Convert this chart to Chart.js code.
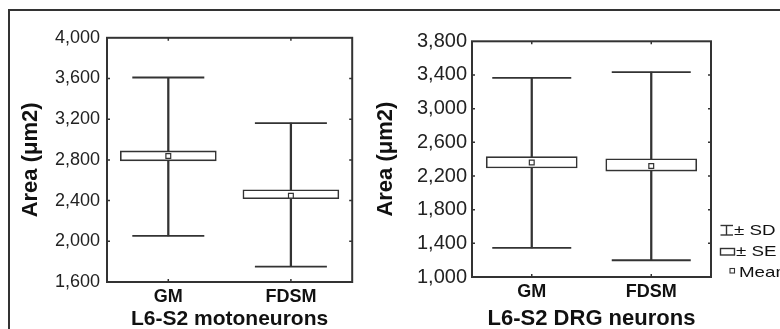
<!DOCTYPE html>
<html>
<head>
<meta charset="utf-8">
<script src="https://cdn.jsdelivr.net/npm/chart.js@4.4.1/dist/chart.umd.min.js"></script>
<style>
html,body{margin:0;padding:0;background:#fff;overflow:hidden;width:780px;height:329px;}
#frame{position:absolute;left:8px;top:9px;width:800px;height:400px;border-top:2px solid #333;border-left:2px solid #333;}
#w1{position:absolute;left:0;top:0;width:390px;height:329px;}
#w2{position:absolute;left:355px;top:0;width:425px;height:329px;}
.lg{position:absolute;font-family:'Liberation Sans',Arial,sans-serif;font-size:15px;line-height:15px;color:#111;white-space:nowrap;transform:scaleX(1.25);transform-origin:0 0;}
</style>
</head>
<body>
<div id="frame"></div>
<div id="w1"><canvas id="c1" width="390" height="329"></canvas></div>
<div id="w2"><canvas id="c2" width="425" height="329"></canvas></div>

<svg style="position:absolute;left:718px;top:222px;" width="20" height="60">
  <g stroke="#333" stroke-width="1.4" fill="#fff">
    <line x1="2.5" y1="3.5" x2="15" y2="3.5"/>
    <line x1="8.5" y1="3.5" x2="8.5" y2="13"/>
    <line x1="2.5" y1="13" x2="15" y2="13"/>
    <rect x="2.5" y="26.5" width="14" height="6.5"/>
    <rect x="12" y="46.5" width="4.5" height="4.5" stroke-width="1.1"/>
  </g>
</svg>
<div class="lg" style="left:734px;top:222px;">± SD</div>
<div class="lg" style="left:736px;top:243px;">± SE</div>
<div class="lg" style="left:739px;top:264px;">Mean</div>

<script>
// ---- data ----
const categories = ['GM', 'FDSM'];

// L6-S2 motoneurons
const motoMean   = [2838, 2447];
const motoSeLow  = [2791, 2419];
const motoSeHigh = [2888, 2507];
const motoSdLow  = [2054, 1751];
const motoSdHigh = [3610, 3162];
const motoTicks  = [1600, 2000, 2400, 2800, 3200, 3600, 4000];

// L6-S2 DRG neurons
const drgMean   = [2361, 2319];
const drgSeLow  = [2296, 2258];
const drgSeHigh = [2430, 2404];
const drgSdLow  = [1345, 1199];
const drgSdHigh = [3366, 3435];
const drgTicks  = [1000, 1400, 1800, 2200, 2600, 3000, 3400, 3800];

const yTitle = 'Area (μm2)';
const FONT = "'Liberation Sans', Arial, sans-serif";
const INK = '#333';

const framePlugin = {
  id: 'frameTicks',
  afterDatasetsDraw(chart) {
    const {ctx, chartArea: a, scales} = chart;
    ctx.save();
    ctx.strokeStyle = INK;
    ctx.lineWidth = 2;
    ctx.strokeRect(a.left, a.top, a.right - a.left, a.bottom - a.top);
    ctx.lineWidth = 1.5;
    const ys = scales.y.ticks;
    ys.forEach((t, i) => {
      if (i === 0 || i === ys.length - 1) return;
      const y = scales.y.getPixelForTick(i);
      ctx.beginPath();
      ctx.moveTo(a.left, y); ctx.lineTo(a.left + 3, y);
      ctx.moveTo(a.right, y); ctx.lineTo(a.right - 3, y);
      ctx.stroke();
    });
    scales.x.ticks.forEach((t, i) => {
      const x = scales.x.getPixelForValue(i);
      ctx.beginPath();
      ctx.moveTo(x, a.top); ctx.lineTo(x, a.top + 3);
      ctx.moveTo(x, a.bottom); ctx.lineTo(x, a.bottom - 3);
      ctx.stroke();
    });
    ctx.restore();
  }
};

function makeChart(id, o) {
  const W = o.W, H = 329;
  return new Chart(document.getElementById(id), {
    type: 'bar',
    data: {
      labels: categories,
      datasets: [
        { type: 'bar', label: 'SD range', data: o.sdLow.map((v, i) => [v, o.sdHigh[i]]),
          barThickness: 1.6, backgroundColor: INK, borderWidth: 0, grouped: false, order: 4 },
        { type: 'bar', label: '± SE', data: o.seLow.map((v, i) => [v, o.seHigh[i]]),
          barThickness: o.boxW, backgroundColor: '#fff', borderColor: INK, borderWidth: 1.6,
          borderSkipped: false, grouped: false, order: 2 },
        { type: 'line', label: '± SD', data: o.sdHigh, showLine: false, pointStyle: 'line',
          pointRadius: o.capW / 2, pointHoverRadius: o.capW / 2, borderColor: INK,
          pointBorderColor: INK, pointBorderWidth: 1.8, order: 3 },
        { type: 'line', label: 'SD low', data: o.sdLow, showLine: false, pointStyle: 'line',
          pointRadius: o.capW / 2, pointHoverRadius: o.capW / 2, borderColor: INK,
          pointBorderColor: INK, pointBorderWidth: 1.8, order: 3 },
        { type: 'line', label: 'Mean', data: o.mean, showLine: false, pointStyle: 'rect',
          pointRadius: 3.4, pointHoverRadius: 3.4, pointBackgroundColor: '#fff',
          pointBorderColor: INK, pointBorderWidth: 1.2, order: 1 }
      ]
    },
    options: {
      responsive: false,
      animation: false,
      events: [],
      layout: { padding: { left: 0, top: o.top, right: W - o.right, bottom: 0 } },
      plugins: { legend: { display: false }, tooltip: { enabled: false } },
      scales: {
        x: {
          type: 'category',
          grid: { display: false, drawTicks: false },
          border: { display: false },
          ticks: { color: '#111', font: { family: FONT, size: 18, weight: 'bold' }, padding: 4 },
          title: { display: true, text: o.xTitle, color: '#111',
                   font: { family: FONT, size: o.xTitleSize, weight: 'bold', lineHeight: 1 },
                   padding: { top: 0, bottom: -1 } },
          afterFit(s) { s.height = H - o.bottom; }
        },
        y: {
          min: o.ticks[0], max: o.ticks[o.ticks.length - 1],
          afterBuildTicks(s) { s.ticks = o.ticks.map(v => ({ value: v })); },
          grid: { display: false, drawTicks: false },
          border: { display: false },
          ticks: { color: '#222', font: { family: FONT, size: o.tickSize }, padding: o.tickPad },
          title: { display: true, text: yTitle, color: '#111',
                   font: { family: FONT, size: 22, weight: 'bold', lineHeight: 1 },
                   padding: { top: 20, bottom: 0 } },
          afterFit(s) { s.width = o.left; }
        }
      }
    },
    plugins: [framePlugin]
  });
}

makeChart('c1', {
  W: 390, left: 107, right: 359, top: 28, bottom: 282, tickPad: 7, tickSize: 18, xTitleSize: 21,
  boxW: 96, capW: 72, xTitle: 'L6-S2 motoneurons',
  mean: motoMean, seLow: motoSeLow, seHigh: motoSeHigh, sdLow: motoSdLow, sdHigh: motoSdHigh,
  ticks: motoTicks
});

makeChart('c2', {
  W: 425, left: 117, right: 356, top: 34, bottom: 277, tickPad: 5, tickSize: 20, xTitleSize: 22,
  boxW: 91, capW: 79, xTitle: 'L6-S2 DRG neurons',
  mean: drgMean, seLow: drgSeLow, seHigh: drgSeHigh, sdLow: drgSdLow, sdHigh: drgSdHigh,
  ticks: drgTicks
});
</script>
</body>
</html>
